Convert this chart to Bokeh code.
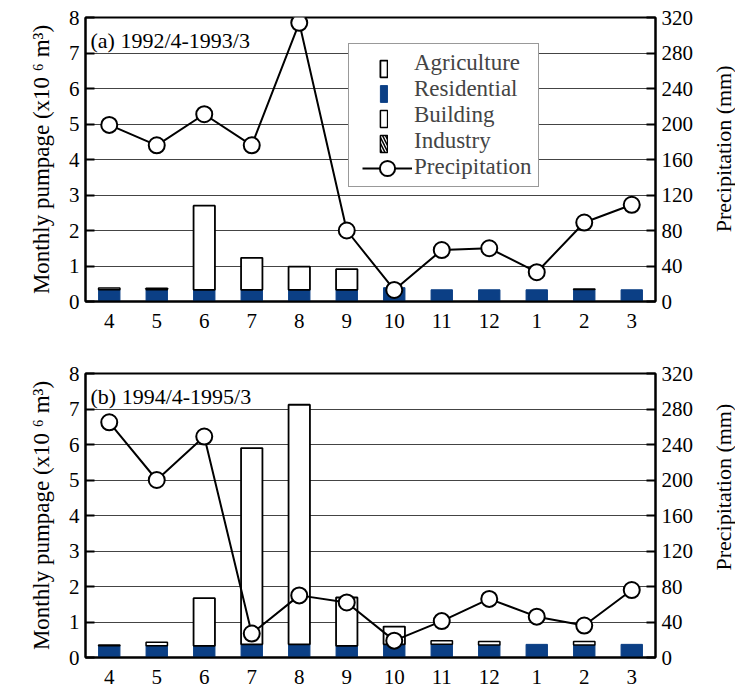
import math
import numpy as np
from bokeh.plotting import figure
from bokeh.models import (ColumnDataSource, Range1d, LinearAxis, FixedTicker,
                          Legend, LegendItem, Label)
from bokeh.layouts import column, row
from bokeh.embed import file_html
from bokeh.resources import INLINE

# ---------------- data ----------------
months = ["4", "5", "6", "7", "8", "9", "10", "11", "12", "1", "2", "3"]

a_title = "(a) 1992/4-1993/3"
a_residential = [0.33, 0.33, 0.33, 0.33, 0.33, 0.33, 0.39, 0.33, 0.33, 0.33, 0.34, 0.33]
a_building = [0.05, 0.04, 0, 0, 0, 0, 0, 0, 0, 0, 0.01, 0]
a_industry = [0, 0, 0, 0, 0, 0, 0, 0, 0, 0, 0, 0]
a_agriculture = [0, 0, 2.37, 0.9, 0.65, 0.58, 0, 0, 0, 0, 0, 0]
a_precip = [199, 176, 211, 176, 314, 80, 13, 58, 60, 33, 89, 109]

b_title = "(b) 1994/4-1995/3"
b_residential = [0.33, 0.33, 0.33, 0.37, 0.37, 0.33, 0.37, 0.37, 0.35, 0.37, 0.35, 0.37]
b_building = [0.02, 0.1, 0, 0, 0, 0, 0, 0.1, 0.1, 0, 0.1, 0]
b_industry = [0, 0, 0, 0, 0, 0, 0, 0, 0, 0, 0, 0]
b_agriculture = [0, 0, 1.34, 5.53, 6.75, 1.36, 0.5, 0, 0, 0, 0, 0]
b_precip = [265, 200, 249, 27, 70, 62, 19, 41, 66, 46, 36, 76]

left_ticks = [0, 1, 2, 3, 4, 5, 6, 7, 8]
right_ticks = [0, 40, 80, 120, 160, 200, 240, 280, 320]
legend_names = ["Agriculture", "Residential", "Building", "Industry", "Precipitation"]
left_label = "Monthly pumpage (x10 \u2076 m\u00b3)"
right_label = "Precipitation (mm)"

FONT = "'Liberation Serif', 'Times New Roman', serif"
BLUE = "#0b3f85"
FS_TICK = "21px"
FS_LEG = "23px"
MAIN_W = 711
SIDE_W = 24

STYLES = {
    "Residential": dict(fill_color=BLUE, line_color=BLUE, line_width=1),
    "Building": dict(fill_color="white", line_color="black", line_width=1.5),
    "Industry": dict(fill_color="white", line_color="black", line_width=1.5,
                     hatch_pattern="\\", hatch_color="black", hatch_scale=6, hatch_weight=1.5),
    "Agriculture": dict(fill_color="white", line_color="black", line_width=1.8),
}


def side_title(height, border_top, border_bottom, y):
    """Narrow strip holding the right-hand axis title, read bottom-to-top."""
    s = figure(width=SIDE_W, height=height, x_range=Range1d(0, 1), y_range=Range1d(0, 8),
               output_backend="svg", toolbar_location=None,
               x_axis_location=None, y_axis_location=None,
               min_border_left=0, min_border_right=0,
               min_border_top=border_top, min_border_bottom=border_bottom)
    s.outline_line_color = None
    s.xgrid.visible = False
    s.ygrid.visible = False
    s.add_layout(Label(x=0.5, y=y, text=right_label, angle=math.pi / 2,
                       text_align="center", text_baseline="middle",
                       text_font=FONT, text_font_size="22px", text_color="black"))
    return s


def make_panel(title, residential, building, industry, agriculture, precip,
               height, border_top, border_bottom, with_legend):
    p = figure(x_range=months, y_range=Range1d(0, 8), width=MAIN_W, height=height,
               output_backend="svg", toolbar_location=None,
               min_border_left=85, min_border_right=MAIN_W - 655,
               min_border_top=border_top, min_border_bottom=border_bottom)
    p.extra_y_ranges = {"precip": Range1d(0, 320)}
    p.outline_line_color = "black"
    p.outline_line_width = 2
    p.background_fill_color = "white"
    p.border_fill_color = "white"

    layers = [("Residential", residential), ("Building", building),
              ("Industry", industry), ("Agriculture", agriculture)]
    base = np.zeros(len(months))
    rends = {}
    for name, vals in layers:
        v = np.array(vals, dtype=float)
        top = base + v
        mask = v > 0
        src = ColumnDataSource(dict(
            x=[m for m, k in zip(months, mask) if k],
            bottom=base[mask].tolist(), top=top[mask].tolist()))
        rends[name] = p.vbar(x="x", bottom="bottom", top="top", width=0.45,
                             source=src, **STYLES[name])
        base = top

    psrc = ColumnDataSource(dict(x=months, y=precip))
    pl = p.line("x", "y", source=psrc, y_range_name="precip",
                line_color="black", line_width=2)
    ps = p.scatter("x", "y", source=psrc, y_range_name="precip", size=16,
                   fill_color="white", line_color="black", line_width=2)

    # axes
    yl = p.yaxis[0]
    yl.ticker = FixedTicker(ticks=left_ticks)
    yl.axis_label = left_label
    yr = LinearAxis(y_range_name="precip", ticker=FixedTicker(ticks=right_ticks))
    p.add_layout(yr, "right")
    for ax in (yl, yr):
        ax.axis_line_width = 2
        ax.major_tick_in = 9
        ax.major_tick_out = 0
        ax.major_tick_line_width = 2
        ax.minor_tick_line_color = None
        ax.major_label_standoff = 6
    yl.axis_label_standoff = 12
    xa = p.xaxis[0]
    xa.axis_line_width = 2
    xa.major_tick_line_color = None
    xa.minor_tick_line_color = None
    xa.major_label_standoff = 6
    for ax in (yl, yr, xa):
        ax.major_label_text_font = FONT
        ax.major_label_text_font_size = FS_TICK
        ax.major_label_text_color = "black"
        ax.axis_label_text_font = FONT
        ax.axis_label_text_font_size = "23px"
        ax.axis_label_text_font_style = "normal"
        ax.axis_label_text_color = "black"

    p.xgrid.visible = False
    p.ygrid.ticker = FixedTicker(ticks=left_ticks)
    p.ygrid.grid_line_color = "#444444"
    p.ygrid.grid_line_width = 1

    p.add_layout(Label(x=0, y=7.35, x_offset=5, text=title, text_font=FONT,
                       text_font_size="22px", text_baseline="middle",
                       text_color="black"))

    if with_legend:
        ghost = p.scatter(x=[], y=[], alpha=0)
        # legend proxy for the (empty) industry series: zero-height bar hidden on the axis
        ind_proxy = p.vbar(x=[months[0]], bottom=[0], top=[0], width=0.45,
                           **STYLES["Industry"])
        proxies = dict(rends)
        proxies["Industry"] = ind_proxy
        common = dict(label_text_font=FONT, label_text_font_size=FS_LEG,
                      label_height=25, glyph_height=21, spacing=0, padding=6,
                      margin=0)
        # box + texts
        legA = Legend(items=[LegendItem(label=n, renderers=[ghost]) for n in legend_names],
                      location=(263, 114), glyph_width=52, label_standoff=7,
                      border_line_color="#333333", border_line_width=1.5,
                      background_fill_color="white", background_fill_alpha=1,
                      **common)
        # narrow bar swatches
        bar_items = [LegendItem(label=" ", renderers=[proxies[n]]) for n in legend_names[:4]]
        bar_items.append(LegendItem(label=" ", renderers=[ghost]))
        legB = Legend(items=bar_items, location=(288, 114), glyph_width=9,
                      label_standoff=0, label_text_alpha=0,
                      border_line_alpha=0, background_fill_alpha=0, **common)
        # line-and-marker swatch
        legC = Legend(items=[LegendItem(label=" ", renderers=[pl, ps])],
                      location=(277, 114), glyph_width=50, glyph_height=38,
                      label_height=38, padding=0, margin=0, spacing=0,
                      label_standoff=0, label_text_alpha=0, label_text_font=FONT,
                      label_text_font_size=FS_LEG,
                      border_line_alpha=0, background_fill_alpha=0)
        p.add_layout(legA, "center")
        p.add_layout(legB, "center")
        p.add_layout(legC, "center")
    return p


p1 = make_panel(a_title, a_residential, a_building, a_industry, a_agriculture,
                a_precip, 337, 17, 36, True)
s1 = side_title(337, 17, 36, 4.3)
p2 = make_panel(b_title, b_residential, b_building, b_industry, b_agriculture,
                b_precip, 350, 36, 30, False)
s2 = side_title(350, 36, 30, 4.8)

layout = column(row(p1, s1, spacing=0), row(p2, s2, spacing=0), spacing=0)
open("out.html", "w").write(file_html(layout, INLINE))
